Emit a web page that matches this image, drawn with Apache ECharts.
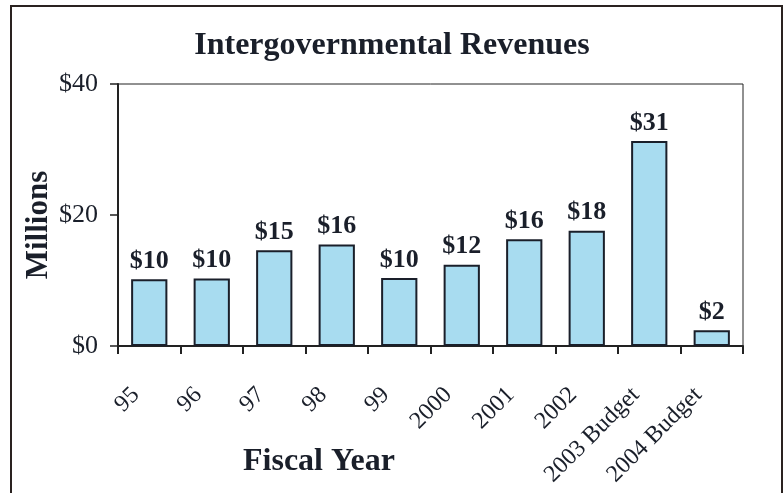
<!DOCTYPE html>
<html>
<head>
<meta charset="utf-8">
<script src="https://cdn.jsdelivr.net/npm/echarts@6/dist/echarts.min.js"></script>
<style>
  html, body { margin: 0; padding: 0; background: #ffffff; }
  #chart { width: 784px; height: 493px; }
</style>
</head>
<body>
<div id="chart"></div>
<script>
// Fiscal years and intergovernmental revenue (millions of dollars)
const categories = ['95', '96', '97', '98', '99', '2000', '2001', '2002', '2003 Budget', '2004 Budget'];
const revenues = [10.2, 10.3, 14.6, 15.5, 10.4, 12.4, 16.3, 17.6, 31.3, 2.4];
const yTicks = [0, 20, 40];

const serif = '"Liberation Serif", "Times New Roman", serif';
const ink = '#1a1f2a';

const chart = echarts.init(document.getElementById('chart'));
chart.setOption({
  animation: false,
  backgroundColor: '#ffffff',
  title: {
    text: 'Intergovernmental Revenues',
    left: 'center',
    top: 25,
    textStyle: { fontFamily: serif, fontWeight: 'bold', fontSize: 32, color: ink }
  },
  grid: {
    left: 118, top: 84, right: 41, bottom: 147,
    show: true, borderColor: '#222', borderWidth: 1, backgroundColor: 'transparent'
  },
  xAxis: {
    type: 'category',
    data: categories,
    axisLine: { lineStyle: { color: '#222', width: 2 } },
    axisTick: { show: true, alignWithLabel: false, length: 8, lineStyle: { color: '#222', width: 2 } },
    axisLabel: {
      rotate: 45, margin: 32, interval: 0,
      padding: [0, 19, 0, 0],
      fontFamily: serif, fontSize: 24, color: ink
    }
  },
  yAxis: {
    type: 'value',
    min: yTicks[0], max: yTicks[yTicks.length - 1], interval: 20,
    axisLine: { show: true, lineStyle: { color: '#222', width: 2 } },
    axisTick: { show: true, inside: false, length: 8, lineStyle: { color: '#222', width: 1.5 } },
    splitLine: { show: false },
    axisLabel: {
      margin: 20, fontFamily: serif, fontSize: 26, color: ink,
      formatter: v => '$' + v
    }
  },
  series: [{
    type: 'bar',
    data: revenues,
    barWidth: '58%',
    itemStyle: { color: '#a8dcf0', borderColor: ink, borderWidth: 2 },
    label: {
      show: true, position: 'top', distance: 5,
      fontFamily: serif, fontWeight: 'bold', fontSize: 26, color: ink,
      formatter: p => '$' + Math.round(p.value)
    }
  }],
  graphic: [
    {
      type: 'rect',
      shape: { x: 11, y: 6, width: 771, height: 520 },
      style: { fill: 'none', stroke: '#2a2220', lineWidth: 2 },
      silent: true
    },
    {
      // vertical axis title
      type: 'text',
      x: 39, y: 225,
      rotation: Math.PI / 2,
      style: {
        text: 'Millions',
        font: 'bold 31px ' + serif,
        fill: ink,
        align: 'center',
        verticalAlign: 'middle'
      }
    },
    {
      type: 'text',
      left: 243, top: 446,
      style: {
        text: 'Fiscal Year',
        font: 'bold 32px ' + serif,
        fill: ink
      }
    }
  ]
});
</script>
</body>
</html>
